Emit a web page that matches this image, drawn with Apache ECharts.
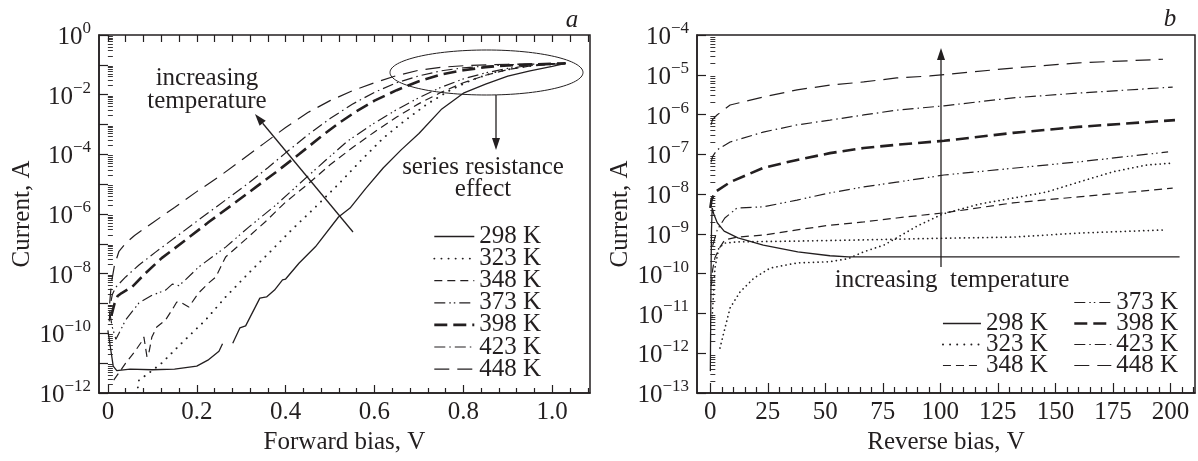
<!DOCTYPE html>
<html>
<head>
<meta charset="utf-8">
<script src="https://cdn.jsdelivr.net/npm/echarts@6.0.0/dist/echarts.min.js"></script>
<style>
html,body{margin:0;padding:0;background:#fff;}
#chart{width:1198px;height:461px;}
</style>
</head>
<body>
<div id="chart"></div>
<script>
// ---------------- DATA (currents given as log10 of amperes) ----------------
const tempNames = ['298 K','323 K','348 K','373 K','398 K','423 K','448 K'];

// Panel a: forward bias (V) vs log10(current, A)
const a298V = [0,0.006,0.012,0.02,0.05,0.1,0.15,0.2,0.225,0.25,0.258,0.27,0.281,0.297,0.31,0.342,0.357,0.375,0.393,0.4,0.43,0.467,0.519,0.545,0.58,0.62,0.66,0.7,0.75,0.8,0.85,0.9,0.95,1.0,1.03];
const a298E = [-9.9,-10.5,-11.1,-11.25,-11.2,-11.22,-11.2,-11.1,-10.9,-10.6,-10.35,null,-10.33,-9.82,-9.75,-8.82,-8.78,-8.55,-8.21,-8.18,-7.65,-7.1,-6.1,-5.8,-5.15,-4.45,-3.85,-3.3,-2.5,-1.95,-1.65,-1.38,-1.2,-1.05,-0.95];

const a323V = [0.065,0.07,0.095,0.121,0.166,0.22,0.265,0.317,0.369,0.413,0.467,0.519,0.57,0.62,0.67,0.72,0.77,0.82,0.87,0.92,0.97,1.03];
const a323E = [-12.05,-11.57,-11.3,-11.0,-10.33,-9.55,-8.78,-7.98,-7.21,-6.54,-5.77,-5.0,-4.2,-3.45,-2.85,-2.3,-1.85,-1.5,-1.25,-1.1,-1.0,-0.95];

const a348V = [0.013,0.04,0.063,0.075,0.081,0.088,0.093,0.099,0.11,0.13,0.145,0.155,0.166,0.182,0.204,0.227,0.243,0.265,0.31,0.355,0.4,0.45,0.5,0.55,0.6,0.65,0.7,0.75,0.8,0.85,0.9,0.95,1.03];
const a348E = [-11.57,-11.0,-10.56,-10.3,-10.12,-10.79,-10.6,-10.12,-9.79,-9.55,-9.2,-8.95,-8.98,-9.12,-8.65,-8.31,-8.11,-7.44,-6.85,-6.25,-5.6,-5.0,-4.35,-3.78,-3.25,-2.75,-2.3,-1.92,-1.6,-1.35,-1.16,-1.04,-0.95];

const a373V = [0.004,0.01,0.018,0.025,0.04,0.07,0.1,0.13,0.145,0.16,0.175,0.204,0.265,0.317,0.378,0.43,0.49,0.54,0.6,0.65,0.7,0.75,0.8,0.85,0.9,0.95,1.03];
const a373E = [-9.3,-9.8,-10.2,-10.0,-9.55,-8.98,-8.72,-8.55,-8.35,-8.4,-8.2,-7.78,-7.11,-6.44,-5.7,-5.0,-4.2,-3.55,-2.95,-2.5,-2.1,-1.75,-1.47,-1.27,-1.12,-1.02,-0.95];

const a398V = [0.008,0.015,0.022,0.031,0.054,0.085,0.121,0.175,0.227,0.288,0.333,0.378,0.43,0.48,0.52,0.56,0.6,0.65,0.7,0.75,0.8,0.85,0.9,1.03];
const a398E = [-9.4,-9.0,-8.75,-8.65,-8.45,-7.98,-7.48,-6.87,-6.27,-5.6,-5.1,-4.6,-4.0,-3.4,-2.95,-2.55,-2.2,-1.85,-1.55,-1.32,-1.18,-1.08,-1.02,-0.95];

const a423V = [0.003,0.006,0.01,0.018,0.04,0.07,0.108,0.153,0.204,0.265,0.317,0.36,0.4,0.45,0.5,0.55,0.6,0.65,0.7,0.75,0.8,0.85,0.9,1.03];
const a423E = [-9.6,-9.0,-8.7,-8.45,-8.11,-7.71,-7.27,-6.77,-6.2,-5.53,-4.96,-4.45,-3.95,-3.35,-2.8,-2.32,-1.92,-1.6,-1.37,-1.2,-1.1,-1.04,-1.0,-0.95];

const a448V = [0.004,0.008,0.015,0.025,0.04,0.06,0.1,0.15,0.2,0.25,0.3,0.35,0.4,0.45,0.5,0.55,0.6,0.65,0.7,0.75,0.8,0.9,1.03];
const a448E = [-9.0,-8.3,-7.7,-7.25,-6.98,-6.72,-6.3,-5.78,-5.25,-4.75,-4.2,-3.65,-3.1,-2.6,-2.2,-1.87,-1.6,-1.36,-1.18,-1.08,-1.03,-0.98,-0.95];

// Panel b: reverse bias (V) vs log10(current, A)
const b298V = [0,0.15,0.3,0.5,0.8,1.5,3,6,12,23,38,52,60,100,150,204];
const b298E = [-12.45,-11.2,-10.0,-8.9,-8.35,-8.5,-8.72,-8.93,-9.1,-9.28,-9.45,-9.55,-9.58,-9.58,-9.58,-9.58];

const b323aV = [0.8,1.5,2,3.7,6.3,12,38,67,100,132,160,198];
const b323aE = [-11.1,-10.36,-9.86,-9.35,-9.23,-9.2,-9.18,-9.15,-9.11,-9.08,-8.98,-8.9];

const b323bV = [4.2,5.9,8.6,12.9,19,26,37.7,52,60,66.7,75.5,81,90,101,117,131.6,146,160,175,189.5,201];
const b323bE = [-11.87,-11.47,-10.86,-10.46,-10.11,-9.86,-9.73,-9.7,-9.62,-9.45,-9.28,-9.1,-8.8,-8.5,-8.25,-8.1,-7.95,-7.7,-7.44,-7.27,-7.22];

const b348V = [0.5,1,2,4,6.3,11.6,23,37.7,52,66.7,81,101.6,131.6,160,201];
const b348E = [-10.3,-9.9,-9.6,-9.35,-9.15,-9.08,-9.03,-8.9,-8.78,-8.7,-8.6,-8.47,-8.22,-8.07,-7.85];

const b373V = [1,3,6.3,11.6,23,37.7,52,66.7,81,101.6,131.6,160,199];
const b373E = [-9.3,-8.9,-8.6,-8.35,-8.32,-8.15,-7.97,-7.82,-7.7,-7.52,-7.35,-7.19,-6.94];

const b398V = [0,0.5,2,8.6,23,37.7,52,66.7,81,101.6,131.6,160,202];
const b398E = [-8.35,-8.15,-7.95,-7.7,-7.34,-7.14,-6.97,-6.84,-6.76,-6.66,-6.46,-6.31,-6.14];

const b423V = [0.3,1,2.9,8.6,23,37.7,52,66.7,81,101.6,131.6,160,201];
const b423E = [-7.2,-7.05,-6.89,-6.69,-6.44,-6.26,-6.14,-6.01,-5.89,-5.78,-5.58,-5.46,-5.31];

const b448V = [0.3,1,2.9,8.6,23,37.7,52,66.7,81,95.5,131.6,160.3,196.8];
const b448E = [-6.26,-6.12,-6.01,-5.76,-5.56,-5.38,-5.26,-5.18,-5.08,-5.03,-4.83,-4.7,-4.61];

// Tick labels
const aXTickLabels = [0,0.2,0.4,0.6,0.8,1.0];
const aYTickExps = [-12,-10,-8,-6,-4,-2,0];
const bXTickLabels = [0,25,50,75,100,125,150,175,200];
const bYTickExps = [-13,-12,-11,-10,-9,-8,-7,-6,-5,-4];

// ---------------- CHART ----------------
const FONT = '"Liberation Serif","Times New Roman",Times,serif';
const INK = '#231f20';

function toPairs(V, E){ return V.map((v,i)=> E[i]===null ? [v,'-'] : [v, Math.pow(10, E[i])]); }

const styleA = {
  '298 K': {width:1.3, type:'solid'},
  '323 K': {width:1.9, type:[0.1,7], cap:'round'},
  '348 K': {width:1.2, type:[8,5]},
  '373 K': {width:1.2, type:[11,4,1.5,3,1.5,4]},
  '398 K': {width:2.6, type:[13,6]},
  '423 K': {width:1.2, type:[11,4,1.5,4]},
  '448 K': {width:1.2, type:[15,8]}
};
const styleB = Object.assign({}, styleA, {'323 K': {width:1.7, type:[0.1,4.5], cap:'round'}});

function mk(name, V, E, gi, st){
  return {name, type:'line', xAxisIndex: gi===0?0:3, yAxisIndex: gi===0?0:2, data: toPairs(V,E),
    symbol:'none', showSymbol:false, clip:true, silent:true, animation:false, connectNulls:false,
    emphasis:{disabled:true}, lineStyle:Object.assign({color:INK}, st[name])};
}

const series = [
  mk('298 K', a298V, a298E, 0, styleA),
  mk('323 K', a323V, a323E, 0, styleA),
  mk('348 K', a348V, a348E, 0, styleA),
  mk('373 K', a373V, a373E, 0, styleA),
  mk('398 K', a398V, a398E, 0, styleA),
  mk('423 K', a423V, a423E, 0, styleA),
  mk('448 K', a448V, a448E, 0, styleA),
  mk('298 K', b298V, b298E, 1, styleB),
  mk('323 K', b323aV, b323aE, 1, styleB),
  mk('323 K', b323bV, b323bE, 1, styleB),
  mk('348 K', b348V, b348E, 1, styleB),
  mk('373 K', b373V, b373E, 1, styleB),
  mk('398 K', b398V, b398E, 1, styleB),
  mk('423 K', b423V, b423E, 1, styleB),
  mk('448 K', b448V, b448E, 1, styleB)
];

// tick helper lists
function rangeStep(a, b, n){ const out=[]; for(let i=a;i<=b;i++) out.push(+(i*n).toFixed(4)); return out; }
const aXMinor = rangeStep(0,27,0.04).filter(v => Math.abs(v/0.2 - Math.round(v/0.2))>1e-6);
const aXTop = rangeStep(0,27,0.04);
const bXMinor = rangeStep(1,42,5).filter(v => v%25!==0);
function decades(lo, hi){ const o=[]; for(let e=lo;e<=hi;e++) o.push(Math.pow(10,e)); return o; }
function logMinor(lo, hi){ const o=[]; for(let e=lo;e<hi;e++) for(let m=2;m<=9;m++) o.push(m*Math.pow(10,e)); return o; }

function powLabel(v){ const e = Math.round(Math.log10(v)); return '{b|10}{s|' + (e<0 ? '\u2212'+(-e) : String(e)) + '}'; }
const richPow = {
  b:{fontSize:25, fontFamily:FONT, color:INK, lineHeight:30, verticalAlign:'bottom'},
  s:{fontSize:17, fontFamily:FONT, color:INK, lineHeight:17, verticalAlign:'top'}
};
const tickLine = {color:INK, width:1.2};
const nameStyle = {fontSize:25, fontFamily:FONT, color:INK};

const xAxis = [
  {gridIndex:0, type:'value', min:-0.02, max:1.085, position:'bottom',
   axisLine:{show:true, onZero:false, lineStyle:{color:INK,width:1.5}},
   axisTick:{show:true, inside:true, length:8, customValues:aXTickLabels, lineStyle:tickLine},
   axisLabel:{customValues:aXTickLabels, formatter:v => v===0?'0':v.toFixed(1), fontSize:25, fontFamily:FONT, color:INK, margin:7},
   splitLine:{show:false}, name:'Forward bias, V', nameLocation:'middle', nameGap:36, nameTextStyle:nameStyle},
  {gridIndex:0, type:'value', min:-0.02, max:1.085, position:'bottom',
   axisLine:{show:false, onZero:false}, axisTick:{show:true, inside:true, length:5, customValues:aXMinor, lineStyle:tickLine},
   axisLabel:{show:false}, splitLine:{show:false}},
  {gridIndex:0, type:'value', min:-0.02, max:1.085, position:'top',
   axisLine:{show:false, onZero:false}, axisTick:{show:true, inside:true, length:7, customValues:aXTop, lineStyle:tickLine},
   axisLabel:{show:false}, splitLine:{show:false}},
  {gridIndex:1, type:'value', min:-5.8, max:210.7, position:'bottom',
   axisLine:{show:true, onZero:false, lineStyle:{color:INK,width:1.5}},
   axisTick:{show:true, inside:true, length:10, customValues:bXTickLabels, lineStyle:tickLine},
   axisLabel:{customValues:bXTickLabels, fontSize:25, fontFamily:FONT, color:INK, margin:7},
   splitLine:{show:false}, name:'Reverse bias, V', nameLocation:'middle', nameGap:36, nameTextStyle:nameStyle},
  {gridIndex:1, type:'value', min:-5.8, max:210.7, position:'bottom',
   axisLine:{show:false, onZero:false}, axisTick:{show:true, inside:true, length:6, customValues:bXMinor, lineStyle:tickLine},
   axisLabel:{show:false}, splitLine:{show:false}}
];

const yAxis = [
  {gridIndex:0, type:'log', logBase:10, min:1e-12, max:1, position:'left',
   axisLine:{show:true, onZero:false, lineStyle:{color:INK,width:1.5}},
   axisTick:{show:true, inside:true, length:9, customValues:decades(-12,0), lineStyle:tickLine},
   axisLabel:{customValues:aYTickExps.map(e=>Math.pow(10,e)), formatter:powLabel, rich:richPow, margin:8},
   splitLine:{show:false}, name:'Current, A', nameLocation:'middle', nameGap:64, nameTextStyle:nameStyle},
  {gridIndex:0, type:'log', logBase:10, min:1e-12, max:1, position:'left',
   axisLine:{show:false}, axisTick:{show:true, inside:true, length:5, customValues:logMinor(-12,0), lineStyle:{color:INK,width:0.9}},
   axisLabel:{show:false}, splitLine:{show:false}},
  {gridIndex:1, type:'log', logBase:10, min:1e-13, max:1e-4, position:'left',
   axisLine:{show:true, onZero:false, lineStyle:{color:INK,width:1.5}},
   axisTick:{show:true, inside:true, length:9, customValues:decades(-13,-4), lineStyle:tickLine},
   axisLabel:{customValues:bYTickExps.map(e=>Math.pow(10,e)), formatter:powLabel, rich:richPow, margin:8},
   splitLine:{show:false}, name:'Current, A', nameLocation:'middle', nameGap:64, nameTextStyle:nameStyle},
  {gridIndex:1, type:'log', logBase:10, min:1e-13, max:1e-4, position:'left',
   axisLine:{show:false}, axisTick:{show:true, inside:true, length:5, customValues:logMinor(-13,-4), lineStyle:{color:INK,width:0.9}},
   axisLabel:{show:false}, splitLine:{show:false}}
];

const legendText = {fontSize:25, fontFamily:FONT, color:INK};
function legend(names, left, top, w, gap){
  return {data:names, orient:'vertical', left, top, padding:0, itemGap:gap, itemWidth:w, itemHeight:10,
    selectedMode:false, itemStyle:{color:'rgba(0,0,0,0)', borderWidth:0},
    lineStyle:{width:'inherit', type:'inherit', color:'inherit'},
    textStyle:legendText};
}

function arrowEls(x0,y0,x1,y1){
  const dx=x1-x0, dy=y1-y0, L=Math.hypot(dx,dy), ux=dx/L, uy=dy/L, hl=12, hw=4;
  const bx=x1-ux*hl, by=y1-uy*hl;
  return [
    {type:'line', shape:{x1:x0,y1:y0,x2:bx,y2:by}, style:{stroke:INK, lineWidth:1.3}},
    {type:'polygon', shape:{points:[[x1,y1],[bx-uy*hw,by+ux*hw],[bx+uy*hw,by-ux*hw]]}, style:{fill:INK}}
  ];
}
function txt(s, x, y, italic){
  return {type:'text', x, y, style:{text:s, font:(italic?'italic ':'')+'25px '+FONT, fill:INK,
    align:'center', verticalAlign:'middle', textAlign:'center', textVerticalAlign:'middle'}};
}

const graphic = [].concat(
  [{type:'ellipse', shape:{cx:486.5, cy:72.5, rx:96.5, ry:22.5}, style:{fill:'none', stroke:INK, lineWidth:1}}],
  arrowEls(353,232,255,114),
  arrowEls(496,95,496,150),
  arrowEls(941,267,941,48),
  [txt('increasing',207,78), txt('temperature',207,101),
   txt('series resistance',483,167), txt('effect',483,189),
   txt('increasing  temperature',952,280),
   txt('a',572,20,true), txt('b',1170,19,true)]
);

const option = {
  backgroundColor:'#fff',
  animation:false,
  grid:[
    {left:99, top:35, width:491, height:358, show:true, borderColor:INK, borderWidth:1.5, containLabel:false},
    {left:697, top:35, width:498, height:358, show:true, borderColor:INK, borderWidth:1.5, containLabel:false}
  ],
  xAxis, yAxis, series,
  legend:[
    legend(tempNames, 433, 224, 40, -2.9),
    legend(['298 K','323 K','348 K'], 942, 311, 38, -4),
    legend(['373 K','398 K','423 K','448 K'], 1073, 290, 37, -4)
  ],
  graphic
};

const chart = echarts.init(document.getElementById('chart'), null, {renderer:'canvas'});
chart.setOption(option);
</script>
</body>
</html>
